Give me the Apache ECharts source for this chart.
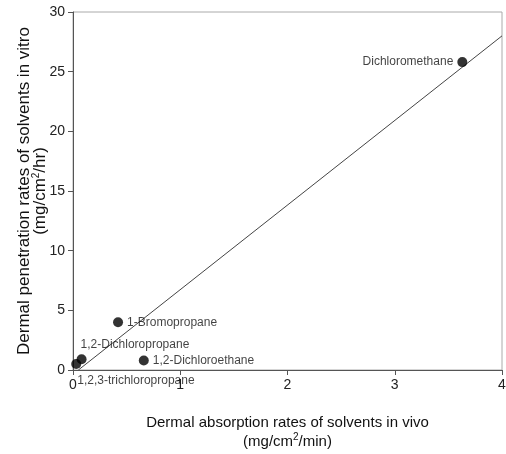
<!DOCTYPE html>
<html>
<head>
<meta charset="utf-8">
<script src="https://cdn.jsdelivr.net/npm/echarts@6/dist/echarts.min.js"></script>
<style>html,body{margin:0;padding:0;background:#fff}#c{width:506px;height:454px}</style>
</head>
<body>
<div id="c"></div>
<script>
const solvents = ['Dichloromethane', '1-Bromopropane', '1,2-Dichloropropane', '1,2,3-trichloropropane', '1,2-Dichloroethane'];
const inVivo = [3.63, 0.42, 0.08, 0.03, 0.66];
const inVitro = [25.8, 4.0, 0.9, 0.5, 0.8];
const fitLine = [[0.05, 0], [4, 28]];
const xTicks = [0, 1, 2, 3, 4];
const yTicks = [0, 5, 10, 15, 20, 25, 30];

const FONT = 'Liberation Sans, Arial, sans-serif';
const labelCfg = {
  'Dichloromethane': {position: 'left', distance: 4},
  '1-Bromopropane': {position: 'right', distance: 4},
  '1,2-Dichloropropane': {position: [4, -10], align: 'left', verticalAlign: 'middle'},
  '1,2,3-trichloropropane': {position: [6, 22], align: 'left', verticalAlign: 'middle'},
  '1,2-Dichloroethane': {position: 'right', distance: 4}
};
const pts = solvents.map((n, i) => ({
  name: n,
  value: [inVivo[i], inVitro[i]],
  label: Object.assign({show: true, formatter: n, color: '#111', fontSize: 12, fontFamily: FONT}, labelCfg[n])
}));

const chart = echarts.init(document.getElementById('c'));
chart.setOption({
  animation: false,
  grid: {left: 73, right: 4, top: 12, bottom: 84, show: true, borderColor: '#aaa', borderWidth: 1,
         containLabel: false, outerBoundsMode: 'none'},
  xAxis: {
    type: 'value', min: xTicks[0], max: xTicks[xTicks.length - 1], interval: 1,
    axisLine: {show: true, lineStyle: {color: '#555', width: 1}},
    axisTick: {show: true, length: 5, lineStyle: {color: '#555'}},
    splitLine: {show: false},
    axisLabel: {color: '#222', fontSize: 14, fontFamily: FONT, margin: 8},
    name: '{a|Dermal absorption rates of solvents in vivo}\n{a|(mg/cm}{s|2}{a|/min)}',
    nameLocation: 'middle', nameGap: 43, nameMoveOverlap: false,
    nameTextStyle: {
      color: '#111', fontFamily: FONT, fontSize: 15, lineHeight: 19,
      rich: {a: {fontSize: 15, fontFamily: FONT, color: '#111', lineHeight: 19},
             s: {fontSize: 10, fontFamily: FONT, color: '#111', padding: [0, 0, 8, 0]}}
    }
  },
  yAxis: {
    type: 'value', min: yTicks[0], max: yTicks[yTicks.length - 1], interval: 5,
    axisLine: {show: true, lineStyle: {color: '#555', width: 1}},
    axisTick: {show: true, length: 5, lineStyle: {color: '#555'}},
    splitLine: {show: false},
    axisLabel: {color: '#222', fontSize: 14, fontFamily: FONT, margin: 8},
    name: '{a|Dermal penetration rates of solvents in vitro}\n{a|(mg/cm}{s|2}{a|/hr)}',
    nameLocation: 'middle', nameGap: 25, nameRotate: 90, nameMoveOverlap: false,
    nameTextStyle: {
      color: '#111', fontFamily: FONT, fontSize: 17, lineHeight: 16,
      rich: {a: {fontSize: 17, fontFamily: FONT, color: '#111', lineHeight: 16},
             s: {fontSize: 10, fontFamily: FONT, color: '#111', padding: [0, 0, 8, 0]}}
    }
  },
  series: [
    {type: 'line', data: fitLine, symbol: 'none', lineStyle: {color: '#444', width: 1}, silent: true, z: 1},
    {type: 'scatter', data: pts, symbol: 'circle', symbolSize: 10, itemStyle: {color: '#000'}, z: 3}
  ]
});
</script>
</body>
</html>
